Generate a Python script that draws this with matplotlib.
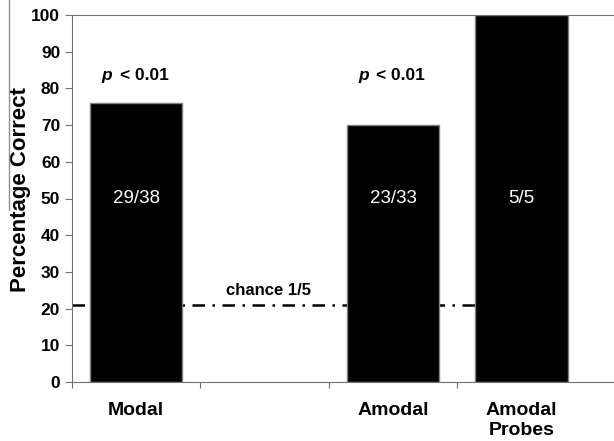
import matplotlib.pyplot as plt
import numpy as np

plt.rcParams['font.family'] = ['Liberation Sans', 'DejaVu Sans']

categories = ['Modal', '', 'Amodal', 'Amodal\nProbes']
percent_correct = [76, 0, 70, 100]
counts = ['29/38', '', '23/33', '5/5']
p_labels = ['< 0.01', '', '< 0.01', '']
chance_level = 21

fig = plt.figure(figsize=(6.14, 4.41), dpi=100)
ax = fig.add_axes([72 / 614, 59 / 441, 542 / 614, 367 / 441])

x = np.arange(len(categories))
ax.plot([-0.5, 2.81], [chance_level, chance_level], color='black', lw=1.8,
        linestyle=(0, (5, 3, 1, 3)), zorder=1)
shown = [i for i, c in enumerate(categories) if c]
ax.bar(x[shown], [percent_correct[i] for i in shown], width=0.72, color='black',
       edgecolor='#808080', linewidth=1, zorder=2)

for xi, v, c, p in zip(x, percent_correct, counts, p_labels):
    if c:
        ax.text(xi, 50, c, color='white', ha='center', va='center', fontsize=13.5)
    if p:
        ax.text(xi - 0.19, 83.5, 'p', fontsize=12.5, fontweight='bold',
                fontstyle='italic', ha='right', va='center')
        ax.text(xi - 0.13, 83.5, p, fontsize=12.5, fontweight='bold',
                ha='left', va='center')

ax.text(1.03, 25, 'chance 1/5', fontsize=12, fontweight='bold', ha='center', va='center')

ax.set_xlim(-0.5, 3.72)
ax.set_ylim(0, 100)
ax.set_yticks(range(0, 101, 10))
ax.set_yticklabels([str(t) for t in range(0, 101, 10)], fontsize=12.5, fontweight='bold')
ax.set_xticks([-0.5, 0.5, 1.5, 2.5])
ax.set_xticklabels([])
for xi, lab in zip(x, categories):
    if lab:
        ax.text(xi, -5.5, lab, fontsize=14, fontweight='bold', ha='center', va='top',
                linespacing=1.25)
ax.set_ylabel('Percentage Correct', fontsize=16, fontweight='bold')
ax.yaxis.set_label_coords(-0.076, 0.525)

for s in ['left', 'bottom', 'top']:
    ax.spines[s].set_color('#707070')
ax.spines['right'].set_visible(False)
ax.tick_params(colors='#707070', labelcolor='black', length=5, direction='out')
ax.tick_params(axis='x', length=4)

fig.add_artist(plt.Line2D([9 / 614, 9 / 614], [1.0, 1 - 210 / 441],
                          color='#909090', lw=1))

fig.savefig('out.png', dpi=100)
